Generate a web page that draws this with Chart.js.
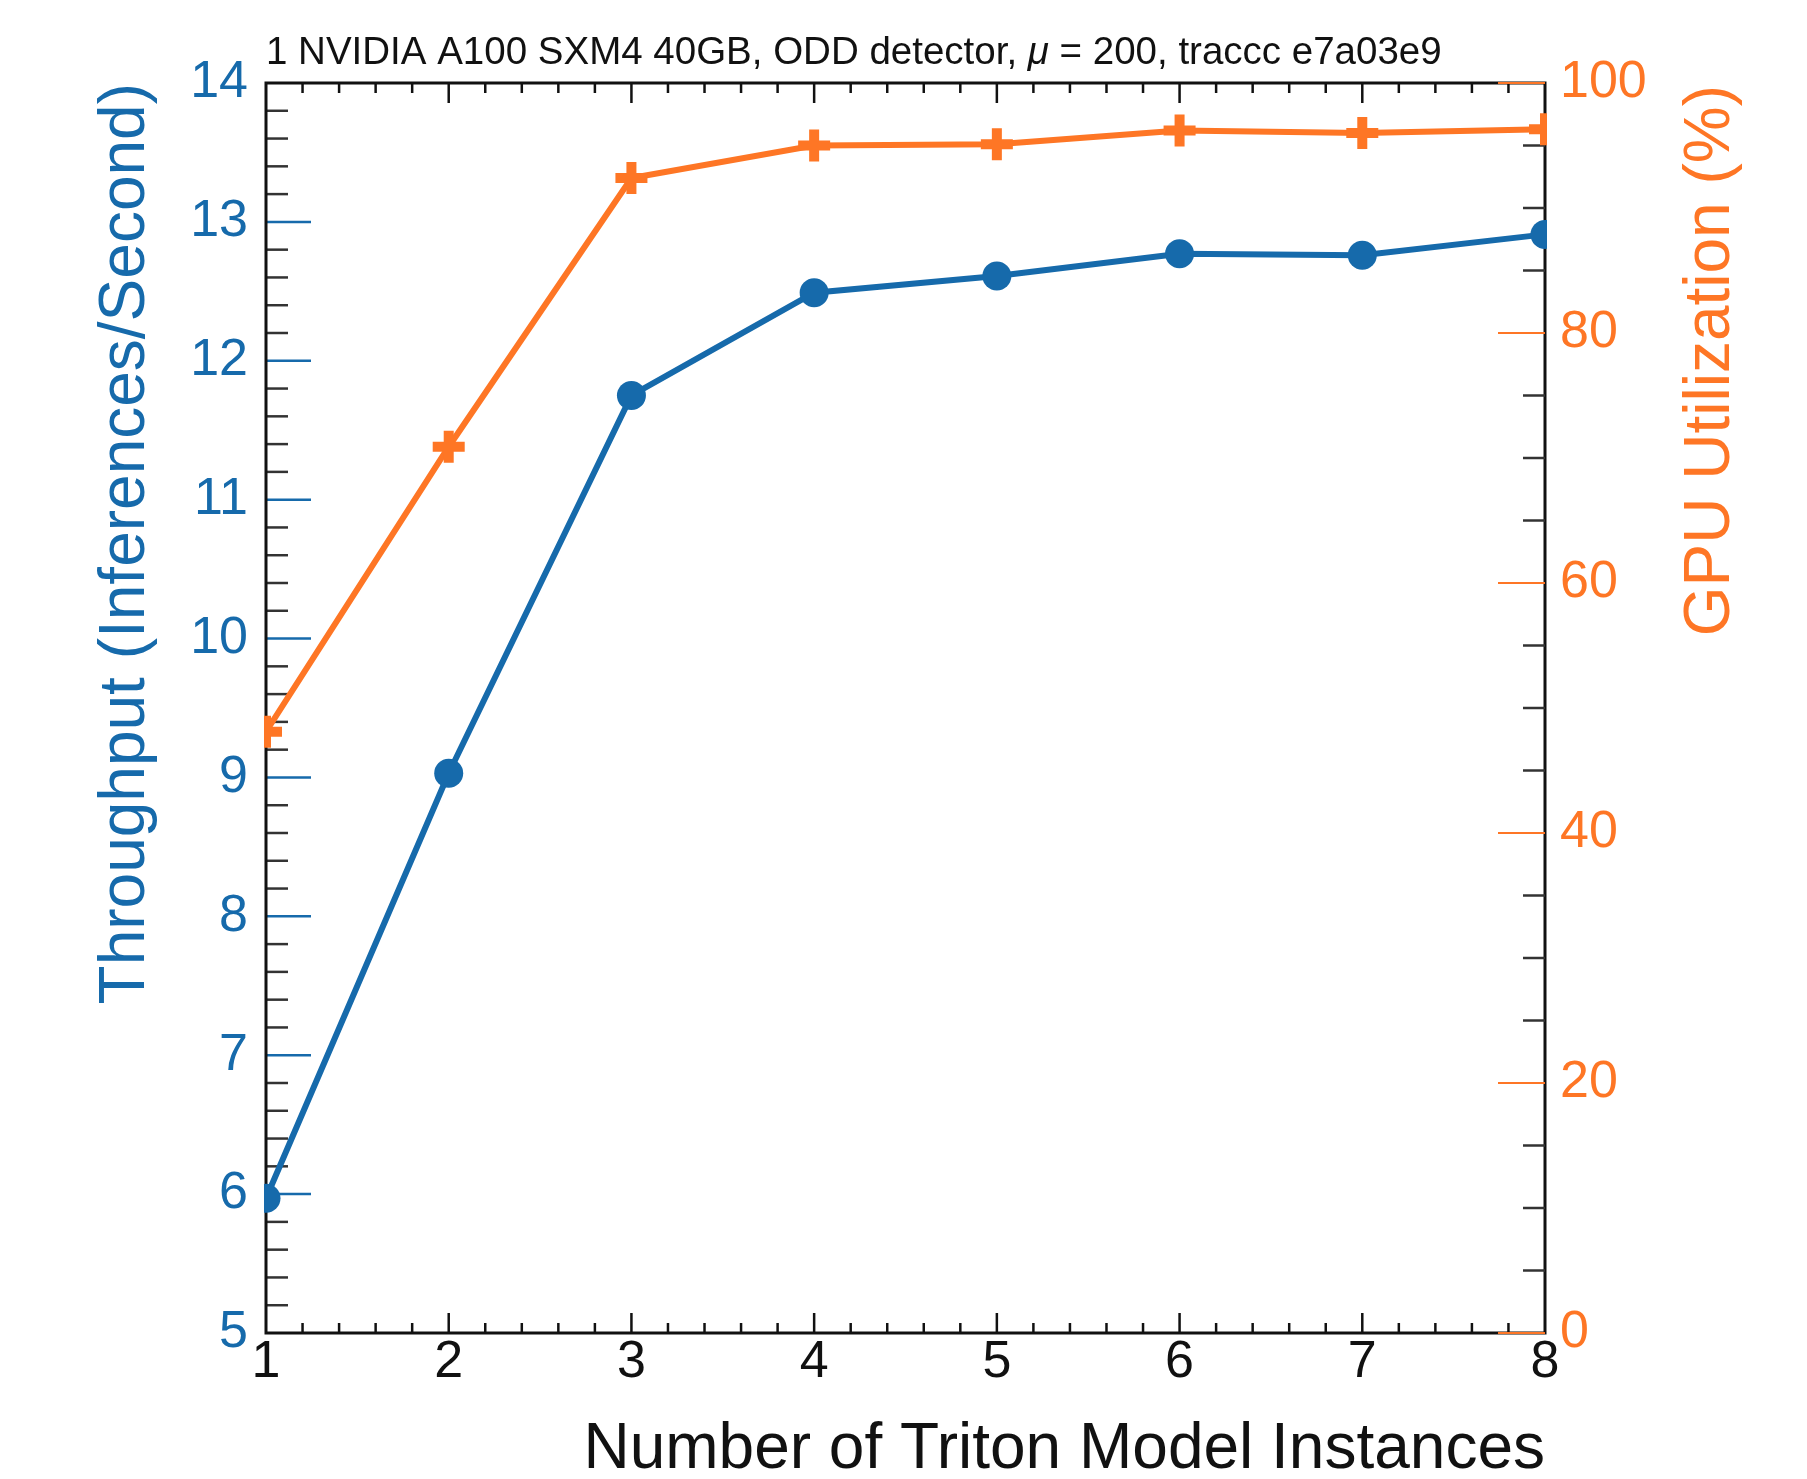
<!DOCTYPE html>
<html><head><meta charset="utf-8">
<script src="https://cdn.jsdelivr.net/npm/chart.js@4.4.1/dist/chart.umd.min.js"></script>
<style>html,body{margin:0;padding:0;background:#fff;} #wrap{width:1807px;height:1479px;}</style>
</head><body><div id="wrap"><canvas id="c" width="1807" height="1479"></canvas></div>
<script>
// ---- data ----
const instances = [1, 2, 3, 4, 5, 6, 7, 8];
const throughput = [5.97, 9.03, 11.75, 12.49, 12.61, 12.77, 12.76, 12.91];
const gpuUtil = [48.1, 70.9, 92.4, 95.0, 95.1, 96.2, 96.0, 96.3];
const xTitle = 'Number of Triton Model Instances';
const yLeftTitle = 'Throughput (Inferences/Second)';
const yRightTitle = 'GPU Utilization (%)';
const titleParts = [['1 NVIDIA A100 SXM4 40GB, ODD detector, ', false], ['\u03bc', true], [' = 200, traccc e7a03e9', false]];
const xRange = [1, 8];
const leftRange = [5, 14];
const rightRange = [0, 100];

const BLUE = '#166aab', ORANGE = '#fe7625', INK = '#111';
const FONT = '"Liberation Sans", Arial, Helvetica, sans-serif';

const framePlugin = {
  id: 'frameTicks',
  beforeDatasetsDraw(chart) {
    const {ctx, chartArea: a, scales} = chart;
    const x = scales.x, y = scales.y, y2 = scales.y2;
    ctx.save();
    ctx.lineCap = 'butt';
    const seg = (x0, y0, x1, y1, col, w) => {
      ctx.strokeStyle = col; ctx.lineWidth = w;
      ctx.beginPath(); ctx.moveTo(x0, y0); ctx.lineTo(x1, y1); ctx.stroke();
    };
    // left axis ticks (0.2 minor, 1 major)
    const nL = Math.round((leftRange[1] - leftRange[0]) * 5);
    for (let i = 1; i < nL; i++) {
      const v = leftRange[0] + i / 5;
      const py = y.getPixelForValue(v);
      const major = i % 5 === 0;
      seg(a.left, py, a.left + (major ? 45 : 22), py, major ? BLUE : '#333', 2.5);
    }
    // x ticks bottom & top
    const nX = Math.round((xRange[1] - xRange[0]) * 5);
    for (let i = 1; i < nX; i++) {
      const v = xRange[0] + i / 5;
      const px = x.getPixelForValue(v);
      const len = i % 5 === 0 ? 20 : 10;
      seg(px, a.bottom, px, a.bottom - len, INK, 2.5);
      seg(px, a.top, px, a.top + len, INK, 2.5);
    }
    // frame
    ctx.strokeStyle = INK; ctx.lineWidth = 3;
    ctx.strokeRect(a.left, a.top, a.right - a.left, a.bottom - a.top);
    // right axis ticks (5 minor, 20 major)
    for (let i = 0; i <= 20; i++) {
      const v = rightRange[0] + i * 5;
      const py = y2.getPixelForValue(v);
      const major = i % 4 === 0;
      seg(a.right - (major ? 47 : 22), py, a.right, py, major ? ORANGE : '#333', major ? 2 : 2.5);
    }
    ctx.restore();
  },
  afterDraw(chart) {
    const {ctx, chartArea: a, scales} = chart;
    ctx.save();
    // top title
    let tx = a.left;
    ctx.fillStyle = INK;
    ctx.textBaseline = 'alphabetic';
    ctx.textAlign = 'left';
    for (const [txt, it] of titleParts) {
      ctx.font = (it ? 'italic ' : '') + '38.5px ' + FONT;
      ctx.fillText(txt, tx, 64);
      tx += ctx.measureText(txt).width;
    }
    // right axis title (reads bottom-to-top, aligned to top)
    const y2 = scales.y2;
    ctx.translate(y2.left + 166, a.top + 2);
    ctx.rotate(-Math.PI / 2);
    ctx.font = '64px ' + FONT;
    ctx.fillStyle = ORANGE;
    ctx.textAlign = 'right';
    ctx.textBaseline = 'middle';
    ctx.fillText(y2.options.title.text, 0, 0);
    ctx.restore();
  }
};

const pts = (ys) => instances.map((v, i) => ({x: v, y: ys[i]}));

new Chart(document.getElementById('c'), {
  type: 'line',
  data: {
    datasets: [
      {
        label: 'Throughput', data: pts(throughput), yAxisID: 'y',
        borderColor: BLUE, backgroundColor: BLUE, borderWidth: 6,
        pointStyle: 'circle', pointRadius: 14.5, pointBorderWidth: 0,
        pointBackgroundColor: BLUE, tension: 0, clip: 2
      },
      {
        label: 'GPU Utilization', data: pts(gpuUtil), yAxisID: 'y2',
        borderColor: ORANGE, backgroundColor: ORANGE, borderWidth: 6,
        pointStyle: 'cross', pointRadius: 16, pointBorderWidth: 10,
        pointBorderColor: ORANGE, tension: 0, clip: 2
      }
    ]
  },
  options: {
    responsive: false, animation: false, devicePixelRatio: 1,
    layout: {padding: {top: 83, left: 0, right: 0, bottom: 0}},
    plugins: {legend: {display: false}, tooltip: {enabled: false}, title: {display: false}},
    events: [],
    scales: {
      x: {
        type: 'linear', position: 'bottom', min: xRange[0], max: xRange[1],
        grid: {display: false, drawTicks: false}, border: {display: false},
        ticks: {stepSize: 1, color: INK, padding: 4, font: {family: FONT, size: 52, lineHeight: 1}},
        title: {display: true, text: xTitle, align: 'end', color: INK, padding: {top: 0, bottom: 0},
                font: {family: FONT, size: 64, lineHeight: 0.9}},
        afterFit(s) { s.height = 146; }
      },
      y: {
        type: 'linear', position: 'left', min: leftRange[0], max: leftRange[1],
        grid: {display: false, drawTicks: false}, border: {display: false},
        ticks: {stepSize: 1, color: BLUE, padding: 18, font: {family: FONT, size: 52, lineHeight: 1}},
        title: {display: true, text: yLeftTitle, align: 'end', color: BLUE, padding: {top: 94, bottom: 0},
                font: {family: FONT, size: 64, lineHeight: 1}},
        afterFit(s) { s.width = 266; }
      },
      y2: {
        type: 'linear', position: 'right', min: rightRange[0], max: rightRange[1],
        grid: {display: false, drawTicks: false}, border: {display: false},
        ticks: {stepSize: 20, color: ORANGE, padding: 15, font: {family: FONT, size: 52, lineHeight: 1}},
        title: {display: false, text: yRightTitle},
        afterFit(s) { s.width = 262; }
      }
    }
  },
  plugins: [framePlugin]
});
</script>
</body></html>
